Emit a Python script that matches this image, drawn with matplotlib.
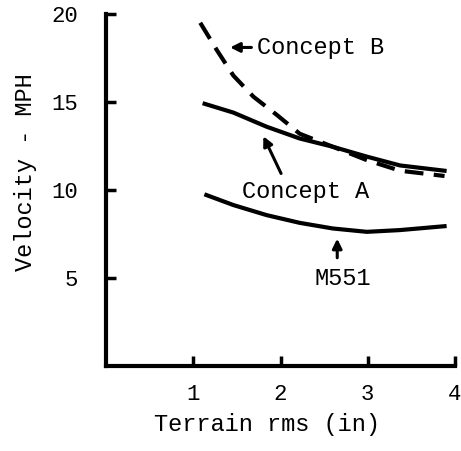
import matplotlib
matplotlib.use("Agg")
import matplotlib.pyplot as plt

plt.rcParams['font.family'] = ['Liberation Mono', 'DejaVu Sans Mono']

# values
rms_b = [1.08, 1.27, 1.46, 1.69, 1.96, 2.22, 2.60, 2.99, 3.37, 3.88]
vel_b = [19.5, 17.95, 16.5, 15.3, 14.26, 13.2, 12.46, 11.7, 11.1, 10.8]

rms_a = [1.13, 1.46, 1.84, 2.22, 2.60, 2.99, 3.37, 3.88]
vel_a = [14.9, 14.4, 13.6, 12.93, 12.46, 11.9, 11.4, 11.1]

rms_m = [1.15, 1.46, 1.84, 2.22, 2.60, 2.99, 3.37, 3.88]
vel_m = [9.72, 9.15, 8.58, 8.14, 7.82, 7.63, 7.73, 7.95]

xticks = [1, 2, 3, 4]
yticks = [5, 10, 15, 20]

fig = plt.figure(figsize=(4.61, 4.51), dpi=100)
ax = fig.add_axes([0.23, 0.188, 0.757, 0.781])

ax.plot(rms_b, vel_b, color='black', lw=3, dashes=(4.5, 2.5))
ax.plot(rms_a, vel_a, color='black', lw=3)
ax.plot(rms_m, vel_m, color='black', lw=3)

arrow = dict(arrowstyle='-|>', color='black', lw=2.2, mutation_scale=14)
ax.annotate('Concept B', xy=(1.39, 18.1), xytext=(1.73, 18.1),
            fontsize=17, va='center', ha='left', arrowprops=arrow)
ax.annotate('', xy=(1.79, 13.2), xytext=(2.02, 10.8), arrowprops=arrow)
ax.text(1.56, 9.9, 'Concept A', fontsize=17, va='center', ha='left')
ax.annotate('', xy=(2.65, 7.4), xytext=(2.65, 6.0), arrowprops=arrow)
ax.text(2.39, 5.0, 'M551', fontsize=17, va='center', ha='left')

ax.set_xlim(0, 4)
ax.set_ylim(0, 20)
ax.set_xticks(xticks)
ax.set_yticks(yticks)
ax.tick_params(direction='in', length=7, width=2.5, labelsize=16)
ax.tick_params(axis='x', pad=13)
ax.tick_params(axis='y', pad=20)

for s in ['top', 'right']:
    ax.spines[s].set_visible(False)
for s in ['left', 'bottom']:
    ax.spines[s].set_linewidth(3)

ax.set_xlabel('Terrain rms (in)', fontsize=17)
ax.set_ylabel('Velocity - MPH', fontsize=17)
ax.xaxis.set_label_coords(0.46, -0.134)
ax.yaxis.set_label_coords(-0.197, 0.55)

fig.savefig('out.png', dpi=100)
